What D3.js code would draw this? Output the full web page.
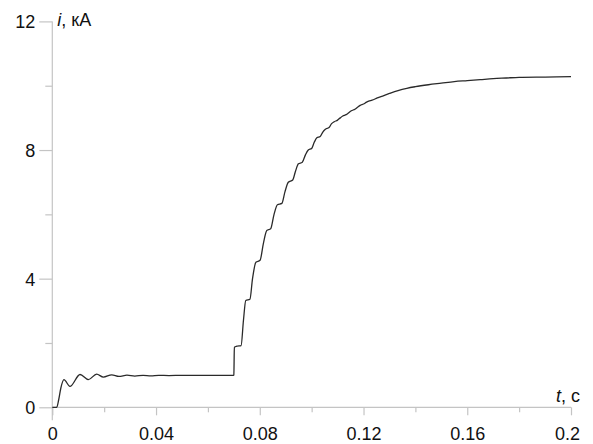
<!DOCTYPE html>
<html>
<head>
<meta charset="utf-8">
<script src="https://cdn.jsdelivr.net/npm/d3@7/dist/d3.min.js"></script>
<style>
  html, body { margin: 0; padding: 0; background: #fff; }
  svg { display: block; }
  text { font-family: "Liberation Sans", Arial, sans-serif; fill: #111; }
</style>
</head>
<body>
<script>
// ---- data ----
const timeS = [
  0, 0.0017, 0.0025, 0.0033, 0.0045, 0.0068, 0.0107, 0.0139, 0.0171, 0.0197, 0.0229, 0.0257, 0.0288,
  0.0318, 0.035, 0.038, 0.041, 0.045, 0.05, 0.055, 0.06, 0.065, 0.0699,
  0.0700, 0.0702, 0.0712, 0.0728, 0.0737, 0.0746, 0.0762, 0.0772, 0.0785, 0.0801, 0.0814, 0.0827,
  0.0842, 0.0855, 0.0868, 0.0885, 0.0897, 0.0910, 0.0927, 0.0938, 0.0949, 0.0964, 0.0976, 0.0987,
  0.1000, 0.1010, 0.1020, 0.1033, 0.1043, 0.1053, 0.1067, 0.1077, 0.1087, 0.1100, 0.1110, 0.1120,
  0.1133, 0.1143, 0.1153, 0.1167, 0.1177, 0.1187, 0.1200, 0.1210, 0.1220, 0.1233, 0.1253, 0.1267,
  0.13, 0.1333, 0.1367, 0.14, 0.145, 0.15, 0.155, 0.16, 0.165, 0.17, 0.175, 0.18, 0.19, 0.2
];
const currentKA = [
  0, 0, 0.25, 0.6, 0.86, 0.65, 1.02, 0.86, 1.03, 0.94, 1.01, 0.96, 1.0,
  0.97, 0.995, 0.98, 0.995, 0.985, 0.995, 0.99, 0.995, 0.995, 0.995,
  1.0, 1.87, 1.9, 1.92, 2.7, 3.32, 3.36, 4.0, 4.51, 4.57, 5.1, 5.5,
  5.55, 6.0, 6.3, 6.34, 6.7, 7.0, 7.07, 7.35, 7.57, 7.62, 7.85, 8.0,
  8.05, 8.24, 8.38, 8.42, 8.56, 8.65, 8.70, 8.82, 8.88, 8.93, 9.0, 9.06,
  9.10, 9.16, 9.22, 9.27, 9.33, 9.39, 9.43, 9.48, 9.52, 9.55, 9.62, 9.66,
  9.76, 9.85, 9.92, 9.97, 10.03, 10.08, 10.13, 10.16, 10.19, 10.22, 10.24, 10.26, 10.27, 10.28
];
const xTickValues = [0, 0.04, 0.08, 0.12, 0.16, 0.2];
const xTickLabels = ["0", "0.04", "0.08", "0.12", "0.16", "0.2"];
const xMinorTicks = [0.02, 0.06, 0.1, 0.14, 0.18];
const yTickValues = [0, 4, 8, 12];
const yTickLabels = ["0", "4", "8", "12"];
const yMinorTicks = [2, 6, 10];
const xTitle = ["t", ", с"];
const yTitle = ["i", ", кА"];

// ---- layout ----
const W = 593, H = 444;
const x = d3.scaleLinear().domain([0, 0.2]).range([52.3, 571]);
const y = d3.scaleLinear().domain([0, 12]).range([407.3, 21.4]);
const axisColor = "#c4c4c4";

const svg = d3.select("body").append("svg").attr("width", W).attr("height", H);

// axis lines
svg.append("line").attr("x1", x(0)).attr("x2", x(0.2)).attr("y1", y(0)).attr("y2", y(0))
  .attr("stroke", axisColor).attr("stroke-width", 1.2);
svg.append("line").attr("x1", x(0)).attr("x2", x(0)).attr("y1", y(12)).attr("y2", y(0) + 13)
  .attr("stroke", axisColor).attr("stroke-width", 1.2);

// x ticks
const xAxisG = svg.append("g").attr("transform", `translate(0,${y(0)})`);
xAxisG.call(d3.axisBottom(x).tickValues(xTickValues).tickSize(8).tickFormat((d, i) => xTickLabels[i]));
xAxisG.call(g => g.select(".domain").remove());
xAxisG.selectAll(".tick line").attr("stroke", axisColor).attr("stroke-width", 1.2);
xAxisG.selectAll(".tick text").attr("font-size", 18).attr("y", 0).attr("dy", "1.83em").attr("fill", "#111")
  .attr("dx", (d, i) => i === xTickValues.length - 1 ? -4 : 0);
const xMinorG = svg.append("g").attr("transform", `translate(0,${y(0)})`);
xMinorG.call(d3.axisBottom(x).tickValues(xMinorTicks).tickSize(5).tickFormat(""));
xMinorG.call(g => g.select(".domain").remove());
xMinorG.selectAll(".tick line").attr("stroke", axisColor).attr("stroke-width", 1.2);

// y ticks
const yAxisG = svg.append("g").attr("transform", `translate(${x(0)},0)`);
yAxisG.call(d3.axisLeft(y).tickValues(yTickValues).tickSize(13).tickFormat((d, i) => yTickLabels[i]));
yAxisG.call(g => g.select(".domain").remove());
yAxisG.selectAll(".tick line").attr("stroke", axisColor).attr("stroke-width", 1.2);
yAxisG.selectAll(".tick text").attr("font-size", 18).attr("x", -17).attr("dy", "0.36em").attr("fill", "#111");
const yMinorG = svg.append("g").attr("transform", `translate(${x(0)},0)`);
yMinorG.call(d3.axisLeft(y).tickValues(yMinorTicks).tickSize(7).tickFormat(""));
yMinorG.call(g => g.select(".domain").remove());
yMinorG.selectAll(".tick line").attr("stroke", axisColor).attr("stroke-width", 1.2);

// titles
const yt = svg.append("text").attr("x", x(0) + 5).attr("y", y(12) + 5).attr("font-size", 18);
yt.append("tspan").attr("font-style", "italic").text(yTitle[0]);
yt.append("tspan").text(yTitle[1]);
const xt = svg.append("text").attr("x", 580).attr("y", y(0) - 5).attr("font-size", 18).attr("text-anchor", "end");
xt.append("tspan").attr("font-style", "italic").text(xTitle[0]);
xt.append("tspan").text(xTitle[1]);

// curve
const pts = timeS.map((t, i) => [t, currentKA[i]]);
const line = d3.line().x(d => x(d[0])).y(d => y(d[1])).curve(d3.curveMonotoneX);
svg.append("path").datum(pts).attr("d", line)
  .attr("fill", "none").attr("stroke", "#2a2a2a").attr("stroke-width", 1.3);
</script>
</body>
</html>
